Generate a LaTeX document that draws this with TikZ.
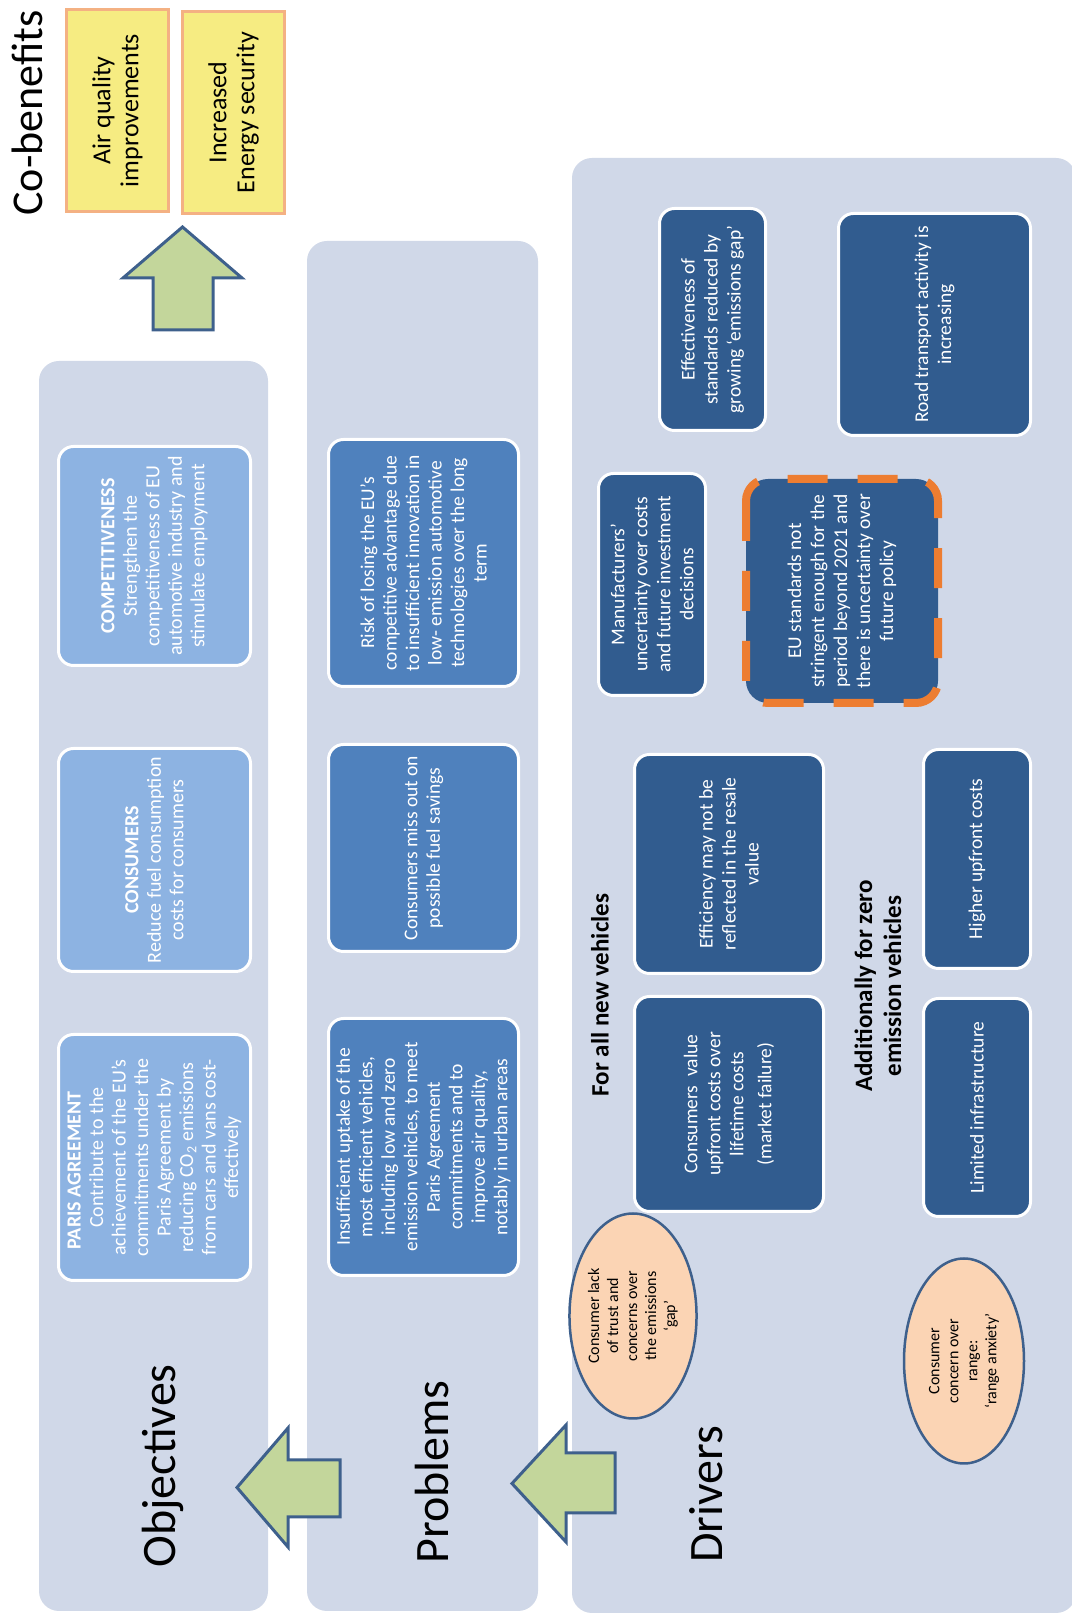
\documentclass[tikz,border=0pt]{standalone}
\usepackage{fontspec}
\setmainfont{Carlito}
\usetikzlibrary{shapes.geometric}
\definecolor{panelbg}{RGB}{208,216,232}
\definecolor{objblue}{RGB}{141,179,226}
\definecolor{probblue}{RGB}{79,129,189}
\definecolor{drvblue}{RGB}{49,92,143}
\definecolor{arrowgreen}{RGB}{195,214,155}
\definecolor{arrowline}{RGB}{62,96,140}
\definecolor{cobyellow}{RGB}{246,236,130}
\definecolor{coborange}{RGB}{244,177,131}
\definecolor{ellfill}{RGB}{251,212,180}
\definecolor{dashorange}{RGB}{237,125,49}
\begin{document}
\begin{tikzpicture}[x=1pt, y=1pt,
	box/.style={rectangle, rounded corners=15pt, draw=white, line width=3pt, text=white, align=center, inner sep=2pt},
	objbox/.style={box, fill=objblue, font=\fontsize{20}{22.5}\selectfont},
	probbox/.style={box, fill=probblue, font=\fontsize{19.5}{22.5}\selectfont},
	drvbox/.style={box, fill=drvblue, font=\fontsize{19.5}{23}\selectfont},
	cobox/.style={rectangle, fill=cobyellow, draw=coborange, line width=3pt, align=center, font=\fontsize{26}{28}\selectfont},
	oval/.style={ellipse, fill=ellfill, draw=arrowline, line width=2.5pt, inner sep=0pt, align=center, font=\fontsize{16}{19}\selectfont},
	title/.style={font=\fontsize{48}{56}\selectfont, inner sep=0pt},
	subtitle/.style={font=\bfseries\fontsize{25}{29}\selectfont, align=center, inner sep=0pt},
	bigarrow/.style={fill=arrowgreen, draw=arrowline, line width=3pt, line join=miter}]

	\useasboundingbox[fill=white] (0,0) rectangle (1071,1617);

	\begin{scope}[rotate=90, transform shape]
		% panels
		\fill[panelbg, rounded corners=20pt] (6,-39) rectangle (1256,-268);
		\fill[panelbg, rounded corners=20pt] (6,-307) rectangle (1376,-538);
		\fill[panelbg, rounded corners=20pt] (4,-572) rectangle (1459,-1076);

		% arrows
		\draw[bigarrow] (129.5,-237) -- (189,-288) -- (157,-288) -- (157,-340) -- (100,-340) -- (100,-288) -- (70,-288) -- cycle;
		\draw[bigarrow] (133.5,-512) -- (192,-566) -- (164,-566) -- (164,-615) -- (104,-615) -- (104,-566) -- (75,-566) -- cycle;
		\draw[bigarrow] (1390,-182.5) -- (1339,-123) -- (1339,-153) -- (1287,-153) -- (1287,-213) -- (1339,-213) -- (1339,-242) -- cycle;

		% titles
		\node (T1) at (151,-163) [title] {Objectives};
		\node (T2) at (145,-432) [title] {Problems};
		\node (T3) at (123,-706) [title] {Drivers};
		\node (T4) at (1504,-27) [title, font=\fontsize{44}{50}\selectfont] {Co-benefits};

		% co-benefits
		\node (C1) at (1506.5,-117.5) [cobox, minimum width=202pt, minimum height=102pt] {Air quality\\improvements};
		\node (C2) at (1504.5,-233.5) [cobox, minimum width=202pt, minimum height=102pt] {Increased\\Energy security};

		% objectives
		\node (O1) at (459.5,-154.5) [objbox, minimum width=246pt, minimum height=192pt] {\textbf{PARIS AGREEMENT}\hspace*{1.3em}\\Contribute to the\\achievement of the EU's\\commitments under the\\Paris Agreement by\\reducing CO\textsubscript{2} emissions\\from cars and vans cost-\\effectively};
		\node (O2) at (757,-154.5) [objbox, minimum width=223pt, minimum height=192pt] {\textbf{CONSUMERS}\\Reduce fuel consumption\\costs for consumers};
		\node (O3) at (1061,-154.5) [objbox, minimum width=219pt, minimum height=192pt] {\textbf{COMPETITIVENESS}\\Strengthen the\\competitiveness of EU\\automotive industry and\\stimulate employment};

		% problems
		\node (P1) at (470,-423.5) [probbox, minimum width=257pt, minimum height=190pt] {Insufficient uptake of the\\most efficient vehicles,\\including low and zero\\emission vehicles, to meet\\Paris Agreement\\commitments and to\\improve air quality,\\notably in urban areas};
		\node (P2) at (769,-423.5) [probbox, minimum width=207pt, minimum height=190pt] {Consumers miss out on\\possible fuel savings};
		\node (P3) at (1054,-423.5) [probbox, minimum width=247pt, minimum height=190pt] {Risk of losing the EU's\\competitive advantage due\\to insufficient innovation in\\low- emission automotive\\technologies over the long\\term};

		% drivers
		\node (S1) at (622,-600) [subtitle] {For all new vehicles};
		\node (S2) at (631,-878) [subtitle] {Additionally for zero\\emission vehicles};
		\node (D1) at (513,-729) [drvbox, minimum width=215pt, minimum height=189pt] {Consumers\ \ value\\upfront costs over\\lifetime costs\\[5pt](market failure)};
		\node (D2) at (753,-729) [drvbox, minimum width=219pt, minimum height=189pt] {Efficiency may not be\\reflected in the resale\\value};
		\node (D3) at (509.5,-977) [drvbox, minimum width=218pt, minimum height=107pt] {Limited infrastructure};
		\node (D4) at (758,-977) [drvbox, minimum width=219pt, minimum height=107pt] {Higher upfront costs};
		\node (D5) at (1032.5,-652) [drvbox, minimum width=222pt, minimum height=107pt] {Manufacturers'\\uncertainty over costs\\and future investment\\decisions};
		\node (D6) at (1026,-842) [drvbox, draw=dashorange, line width=8pt, dash pattern=on 40pt off 30pt, rounded corners=22pt, minimum width=224pt, minimum height=192pt] {EU standards not\\stringent enough for the\\period beyond 2021 and\\there is uncertainty over\\future policy};
		\node (D7) at (1297.5,-712.5) [drvbox, minimum width=222pt, minimum height=106pt] {Effectiveness of\\standards reduced by\\growing `emissions gap'};
		\node (D8) at (1292.5,-934.5) [drvbox, minimum width=222pt, minimum height=192pt] {Road transport activity is\\increasing};
		\node (E1) at (301,-633) [oval, minimum width=205pt, minimum height=125pt] {Consumer lack\\of trust and\\concerns over\\the emissions\\`gap'};
		\node (E2) at (256,-964) [oval, minimum width=205pt, minimum height=120pt] {Consumer\\concern over\\range:\\`range anxiety'};
	\end{scope}
\end{tikzpicture}
\end{document}
